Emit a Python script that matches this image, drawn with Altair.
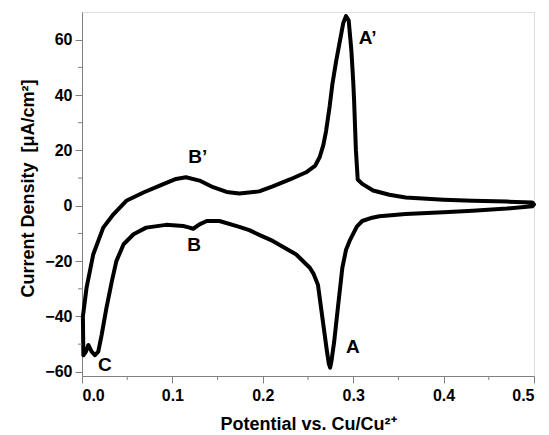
import altair as alt
import pandas as pd

# Cyclic voltammogram: anodic (upper) branch then cathodic (lower) branch
upper_x = [0.001, 0.005, 0.0125, 0.0235, 0.035, 0.049, 0.068, 0.086, 0.104, 0.115,
           0.130, 0.145, 0.160, 0.174, 0.196, 0.211, 0.230, 0.248, 0.258, 0.263,
           0.267, 0.270, 0.274, 0.277, 0.281, 0.285, 0.289, 0.292, 0.295, 0.298,
           0.300, 0.301, 0.303, 0.305, 0.310, 0.322, 0.340, 0.358, 0.400, 0.432,
           0.470, 0.498, 0.500]
upper_y = [-40, -29.7, -17.5, -7.9, -3.0, 1.8, 4.8, 7.3, 9.7, 10.3,
           9.1, 6.7, 5.0, 4.4, 5.2, 7.0, 9.5, 12.1, 14.5, 17.6,
           22, 27, 36, 44, 52, 59, 66, 68.5, 67, 56,
           45, 38, 20, 9.5, 7.9, 5.5, 4.0, 3.0, 2.2, 1.8,
           1.5, 1.2, 0.5]
lower_x = [0.498, 0.470, 0.432, 0.400, 0.358, 0.329, 0.321, 0.310, 0.304, 0.296,
           0.292, 0.288, 0.283, 0.279, 0.276, 0.2745, 0.273, 0.271, 0.266, 0.261,
           0.256, 0.252, 0.237, 0.211, 0.196, 0.185, 0.174, 0.152, 0.138, 0.130,
           0.123, 0.118, 0.112, 0.093, 0.071, 0.057, 0.046, 0.038, 0.033, 0.027,
           0.0217, 0.018, 0.0143, 0.0107, 0.007, 0.0044, 0.0015, 0.001]
lower_y = [-0.2, -1.0, -1.8, -2.3, -3.0, -3.8, -4.3, -5.5, -7.5, -12.7,
           -16, -22.4, -37, -49, -56, -58.5, -57, -52.7, -40.6, -28.5,
           -24.5, -22.4, -17.6, -12.7, -10.5, -8.8, -7.6, -5.5, -5.5, -6.7,
           -8.3, -7.8, -7.3, -6.9, -7.9, -10.3, -13.9, -20, -27.3, -37,
           -46.7, -52.7, -54, -52.7, -50.3, -52.7, -54, -40]

label_text = ["A\u2019", "A", "B\u2019", "B", "C"]
label_x = [0.316, 0.2995, 0.128, 0.124, 0.0254]
label_y = [60.5, -51.0, 17.5, -14.3, -57.6]

y_major = [-60, -40, -20, 0, 20, 40, 60]
y_minor = [-50, -30, -10, 10, 30, 50]
x_major = [0.0, 0.1, 0.2, 0.3, 0.4, 0.5]
x_minor = [0.05, 0.15, 0.25, 0.35, 0.45]

W, H = 452, 364
FONT = "Liberation Sans"

xs = upper_x + lower_x
ys = upper_y + lower_y
cv = pd.DataFrame({"E": xs, "J": ys, "i": list(range(len(xs)))})
labels = pd.DataFrame({"t": label_text, "E": label_x, "J": label_y})
ymin = pd.DataFrame({"v": y_minor})
xmin = pd.DataFrame({"v": x_minor})

xscale = alt.Scale(domain=[0, 0.5], nice=False, zero=False)
yscale = alt.Scale(domain=[-61.5, 70], nice=False, zero=False)

xaxis = alt.Axis(values=x_major, format=".1f", title="Potential vs. Cu/Cu\u00b2\u207a",
                 grid=False, domainColor="#808080", tickColor="#808080", tickSize=7,
                 labelFont=FONT, labelFontSize=16, labelFontWeight="bold", labelColor="black",
                 labelPadding=4, titleFont=FONT, titleFontSize=18, titleFontWeight="bold",
                 titleColor="black", titleY=53, titleBaseline="alphabetic")
yaxis = alt.Axis(values=y_major, title="Current Density \u00a0[\u03bcA/cm\u00b2]",
                 grid=False, domainColor="#808080", tickColor="#808080", tickSize=7,
                 labelFont=FONT, labelFontSize=16, labelFontWeight="bold", labelColor="black",
                 labelPadding=3, titleFont=FONT, titleFontSize=18, titleFontWeight="bold",
                 titleColor="black", titleX=-49, titleY=176, titleBaseline="alphabetic")

line = alt.Chart(cv).mark_line(color="black", strokeWidth=4, strokeJoin="round",
                               strokeCap="round").encode(
    x=alt.X("E:Q", scale=xscale, axis=xaxis),
    y=alt.Y("J:Q", scale=yscale, axis=yaxis),
    order="i:Q",
)

text = alt.Chart(labels).mark_text(font=FONT, fontSize=19, fontWeight="bold",
                                   color="black").encode(
    x=alt.X("E:Q", scale=xscale), y=alt.Y("J:Q", scale=yscale), text="t:N")

yminor = alt.Chart(ymin).mark_rule(color="#808080", strokeWidth=1).encode(
    y=alt.Y("v:Q", scale=yscale), x=alt.value(0), x2=alt.value(-4))
xminor = alt.Chart(xmin).mark_rule(color="#808080", strokeWidth=1).encode(
    x=alt.X("v:Q", scale=xscale), y=alt.value(H), y2=alt.value(H + 4))

chart = alt.layer(line, text, yminor, xminor).properties(
    width=W, height=H,
    autosize=alt.AutoSizeParams(type="none"),
    padding={"left": 74, "top": 4, "right": 7, "bottom": 57},
).configure_view(stroke="#808080", strokeWidth=1).configure(background="white")

chart.save("out.html", embed_options={"renderer": "svg", "actions": False})
